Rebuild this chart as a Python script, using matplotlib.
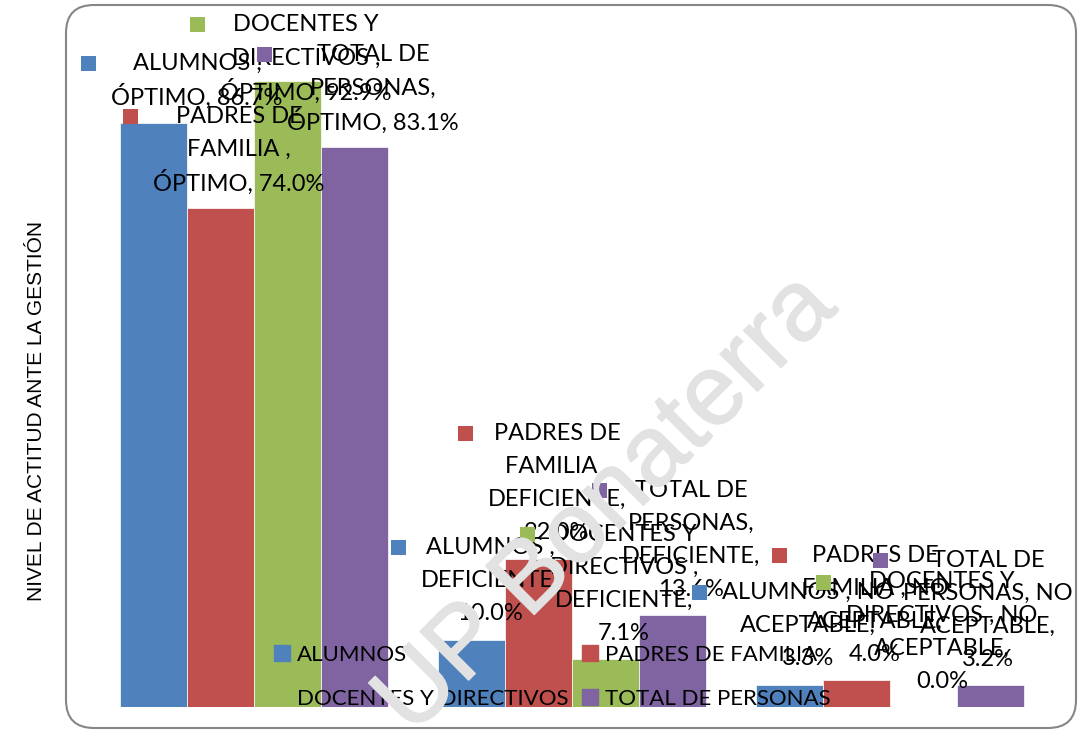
import matplotlib
matplotlib.use('Agg')
import matplotlib.pyplot as plt
import matplotlib.patheffects as pe
import numpy as np
from matplotlib.patches import FancyBboxPatch, Rectangle
from matplotlib.lines import Line2D
from matplotlib.transforms import IdentityTransform

# datos (porcentajes)
categorias = ['ÓPTIMO', 'DEFICIENTE', 'NO ACEPTABLE']
series = ['ALUMNOS', 'PADRES DE FAMILIA', 'DOCENTES Y DIRECTIVOS', 'TOTAL DE PERSONAS']
alumnos = [86.7, 10.0, 3.3]
padres = [74.0, 22.0, 4.0]
docentes = [92.9, 7.1, 0.0]
total = [83.1, 13.6, 3.2]
colores = ['#4F81BD', '#C0504D', '#9BBB59', '#8064A2']
ylabel = 'NIVEL DE ACTITUD ANTE LA GESTIÓN'

# como se parte el nombre de cada serie dentro de la etiqueta
nombre_lineas = [['ALUMNOS ,'], ['PADRES DE', 'FAMILIA ,'],
                 ['DOCENTES Y', 'DIRECTIVOS ,'], ['TOTAL DE', 'PERSONAS,']]

valores = [alumnos, padres, docentes, total]

FUENTE = 'Lato'
TAM = 17

W, H, DPI = 1079, 733, 100
fig = plt.figure(figsize=(W / DPI, H / DPI), dpi=DPI)
ax = fig.add_axes([95 / W, 1 - 707 / H, 954 / W, 674 / H])

x = np.arange(len(categorias))
ancho = 0.2107
for i, vals in enumerate(valores):
    ax.bar(x + (i - 1.5) * ancho, vals, ancho, color=colores[i],
           edgecolor='white', linewidth=0.5, zorder=2)

ax.set_xlim(-0.5, 2.5)
ax.set_ylim(0, 100)
ax.set_axis_off()


def lineas_etiqueta(i, j, v):
    nl = nombre_lineas[i]
    if j == 0:
        return nl + ['ÓPTIMO, %.1f%%' % v]
    if j == 1:
        return nl + ['DEFICIENTE,', '%.1f%%' % v]
    return nl[:-1] + [nl[-1] + ' NO', 'ACEPTABLE,', '%.1f%%' % v]


# ajustes de etiquetas que Excel movio para que quepan
ajustes = {(0, 0): (25, 0), (2, 0): (0, -36), (3, 2): (-21, 0)}

PASO = 33
etiquetas = []
for j in range(len(categorias)):
    for i in range(len(series)):
        v = valores[i][j]
        xb = x[j] + (i - 1.5) * ancho
        lineas = lineas_etiqueta(i, j, v)
        n = len(lineas)
        ddx, ddy = ajustes.get((i, j), (0, 0))
        textos = []
        for k, ln in enumerate(lineas):
            t = ax.annotate(ln, xy=(xb, v), xytext=(18.5 + ddx, 26 + (n - 1 - k) * PASO + ddy),
                            textcoords='offset pixels', ha='center', va='center',
                            family=FUENTE, fontsize=TAM, color='black', zorder=4,
                            annotation_clip=False)
            textos.append(t)
        etiquetas.append((i, textos))

# leyenda
manijas = [Line2D([], [], marker='s', linestyle='none', markersize=11,
                  markerfacecolor=c, markeredgecolor=c) for c in colores]
orden = [0, 2, 1, 3]
leg = ax.legend([manijas[k] for k in orden], [series[k] for k in orden], ncol=2,
                loc='center', bbox_to_anchor=(553 / W, 1 - 677 / H),
                bbox_transform=fig.transFigure, frameon=False,
                prop={'family': FUENTE, 'size': 16}, handlelength=0.6,
                handletextpad=0.35, columnspacing=0.7, labelspacing=1.1,
                borderpad=0)
leg.set_zorder(5)

fig.text(37 / W, 1 - 411 / H, ylabel, rotation=90, ha='center', va='center',
         family='Liberation Sans', fontsize=15, color='black')

# marco redondeado
fig.add_artist(FancyBboxPatch((66, H - 728), 1010, 723,
                              boxstyle='round,pad=0,rounding_size=28',
                              transform=IdentityTransform(), facecolor='none',
                              edgecolor='#868686', linewidth=1.5, zorder=0))

# cuadritos de color junto a cada etiqueta
fig.canvas.draw()
rend = fig.canvas.get_renderer()
for i, textos in etiquetas:
    ext = [t.get_window_extent(rend) for t in textos]
    izq = min(e.x0 for e in ext)
    yc = (ext[0].y0 + ext[0].y1) / 2
    fig.add_artist(Rectangle((izq - 30, yc - 7.5), 15, 15, transform=IdentityTransform(),
                             facecolor=colores[i], edgecolor='none', zorder=4))

# marca de agua
fig.text(607 / W, 1 - 505 / H, 'UP Bonaterra', rotation=45, ha='center', va='center',
         family='Liberation Sans', fontsize=72, color='#e2e2e2', zorder=10,
         path_effects=[pe.withStroke(linewidth=1, foreground='#e2e2e2')])

fig.savefig('out.png', dpi=DPI)
